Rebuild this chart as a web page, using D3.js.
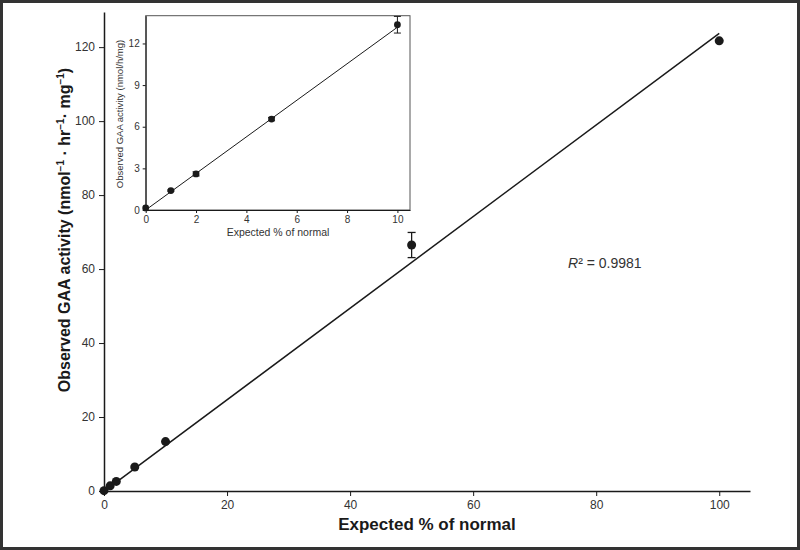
<!DOCTYPE html>
<html><head><meta charset="utf-8">
<script src="https://cdn.jsdelivr.net/npm/d3@7"></script>
<style>body{margin:0;background:#fff}svg{display:block}text{font-family:"Liberation Sans",Arial,sans-serif}</style>
</head><body><svg id="c" width="800" height="550"></svg>
<script>
// Main chart data
const expected = [0, 1, 2, 5, 10, 50, 100];
const observed = [0.1, 1.4, 2.6, 6.5, 13.35, 66.5, 121.7];
const errors = [0, 0, 0, 0, 0, 3.4, 0];
const mainXTicks = [0, 20, 40, 60, 80, 100];
const mainYTicks = [0, 20, 40, 60, 80, 100, 120];
const mainFit = [[0, -0.1], [100, 123.7]];
// Inset data
const insetExpected = [0, 1, 2, 5, 10];
const insetObserved = [0.15, 1.4, 2.6, 6.55, 13.35];
const insetErrors = [0, 0.05, 0.15, 0.12, 0.6];
const insetXTicks = [0, 2, 4, 6, 8, 10];
const insetYTicks = [0, 3, 6, 9, 12];
const insetFit = [[0, 0.0], [10, 13.17]];

const svg = d3.select("#c");
const ink = "#1a1a1a", txt = "#333";

// outer frame
svg.append("rect").attr("x",1.5).attr("y",1.5).attr("width",797).attr("height",547)
  .attr("fill","none").attr("stroke","#333").attr("stroke-width",3);

// main scales
const x = d3.scaleLinear().domain([0,105]).range([104,750]);
const y = d3.scaleLinear().domain([0,129.5]).range([491,12]);

const gx = svg.append("g").attr("transform","translate(0,491)")
  .call(d3.axisBottom(x).tickValues(mainXTicks).tickSize(5).tickSizeOuter(0).tickPadding(4));
const gy = svg.append("g").attr("transform","translate(104,0)")
  .call(d3.axisLeft(y).tickValues(mainYTicks).tickSize(5).tickSizeOuter(0).tickPadding(4));
[gx,gy].forEach(g=>{
  g.select(".domain").attr("stroke",ink).attr("stroke-width",1.5);
  g.selectAll(".tick line").attr("stroke",ink).attr("stroke-width",1);
  g.selectAll(".tick text").attr("fill",txt).style("font-size","12px").style("font-family","Liberation Sans, Arial, sans-serif");
});

// fit line
const line = d3.line().x(d=>x(d[0])).y(d=>y(d[1]));
svg.append("path").attr("d",line(mainFit)).attr("stroke",ink).attr("stroke-width",1.5).attr("fill","none");

// error bars
expected.forEach((e,i)=>{
  if(errors[i]>0){
    const g = svg.append("g").attr("stroke",ink).attr("stroke-width",1.3);
    g.append("line").attr("x1",x(e)).attr("x2",x(e)).attr("y1",y(observed[i]-errors[i])).attr("y2",y(observed[i]+errors[i]));
    [observed[i]-errors[i], observed[i]+errors[i]].forEach(v=>g.append("line").attr("x1",x(e)-4).attr("x2",x(e)+4).attr("y1",y(v)).attr("y2",y(v)));
  }
});
svg.append("g").selectAll("circle").data(expected).join("circle")
  .attr("cx",d=>x(d)).attr("cy",(d,i)=>y(observed[i])).attr("r",4.5).attr("fill",ink);

// titles
svg.append("text").attr("x",427).attr("y",530).attr("text-anchor","middle")
  .style("font-size","17px").style("font-weight","bold").attr("fill",ink).text("Expected % of normal");
const yl = svg.append("text").attr("transform","translate(70,230) rotate(-90)").attr("text-anchor","middle")
  .style("font-size","16px").style("font-weight","bold").attr("fill",ink);
yl.append("tspan").text("Observed GAA activity (nmol");
yl.append("tspan").text("−1").attr("dy",-6).style("font-size","10px");
yl.append("tspan").text(" · hr").attr("dy",6);
yl.append("tspan").text("−1").attr("dy",-6).style("font-size","10px");
yl.append("tspan").text("· mg").attr("dy",6);
yl.append("tspan").text("−1").attr("dy",-6).style("font-size","10px");
yl.append("tspan").text(")").attr("dy",6);

// R^2
const rt = svg.append("text").attr("x",568).attr("y",268).style("font-size","14px").attr("fill",txt);
rt.append("tspan").text("R").style("font-style","italic");
rt.append("tspan").text("²");
rt.append("tspan").text(" = 0.9981");

// inset
const ix = d3.scaleLinear().domain([0,10.5]).range([145.7,410]);
const iy = d3.scaleLinear().domain([0,14]).range([210,15.7]);
svg.append("rect").attr("x",145.7).attr("y",15.7).attr("width",410-145.7).attr("height",210-15.7)
  .attr("fill","#fff").attr("stroke","#555").attr("stroke-width",1);
const igx = svg.append("g").attr("transform","translate(0,210)")
  .call(d3.axisBottom(ix).tickValues(insetXTicks).tickSize(3).tickSizeOuter(0).tickPadding(3));
const igy = svg.append("g").attr("transform","translate(145.7,0)")
  .call(d3.axisLeft(iy).tickValues(insetYTicks).tickSize(3).tickSizeOuter(0).tickPadding(3));
[igx,igy].forEach(g=>{
  g.select(".domain").attr("stroke",ink).attr("stroke-width",1);
  g.selectAll(".tick line").attr("stroke",ink);
  g.selectAll(".tick text").attr("fill",txt).style("font-size","10px").style("font-family","Liberation Sans, Arial, sans-serif");
});
const iline = d3.line().x(d=>ix(d[0])).y(d=>iy(d[1]));
svg.append("path").attr("d",iline(insetFit)).attr("stroke",ink).attr("stroke-width",1).attr("fill","none");
insetExpected.forEach((e,i)=>{
  if(insetErrors[i]>0){
    const g = svg.append("g").attr("stroke",ink).attr("stroke-width",1);
    g.append("line").attr("x1",ix(e)).attr("x2",ix(e)).attr("y1",iy(insetObserved[i]-insetErrors[i])).attr("y2",iy(insetObserved[i]+insetErrors[i]));
    [insetObserved[i]-insetErrors[i], insetObserved[i]+insetErrors[i]].forEach(v=>g.append("line").attr("x1",ix(e)-3.5).attr("x2",ix(e)+3.5).attr("y1",iy(v)).attr("y2",iy(v)));
  }
});
svg.append("g").selectAll("circle").data(insetExpected).join("circle")
  .attr("cx",d=>ix(d)).attr("cy",(d,i)=>iy(insetObserved[i])).attr("r",3.4).attr("fill",ink);
svg.append("text").attr("x",278).attr("y",236).attr("text-anchor","middle")
  .style("font-size","10.5px").attr("fill",txt).text("Expected % of normal");
svg.append("text").attr("transform","translate(123,114) rotate(-90)").attr("text-anchor","middle")
  .style("font-size","9.5px").attr("fill",txt).text("Observed GAA activity (nmol/h/mg)");
</script></body></html>
